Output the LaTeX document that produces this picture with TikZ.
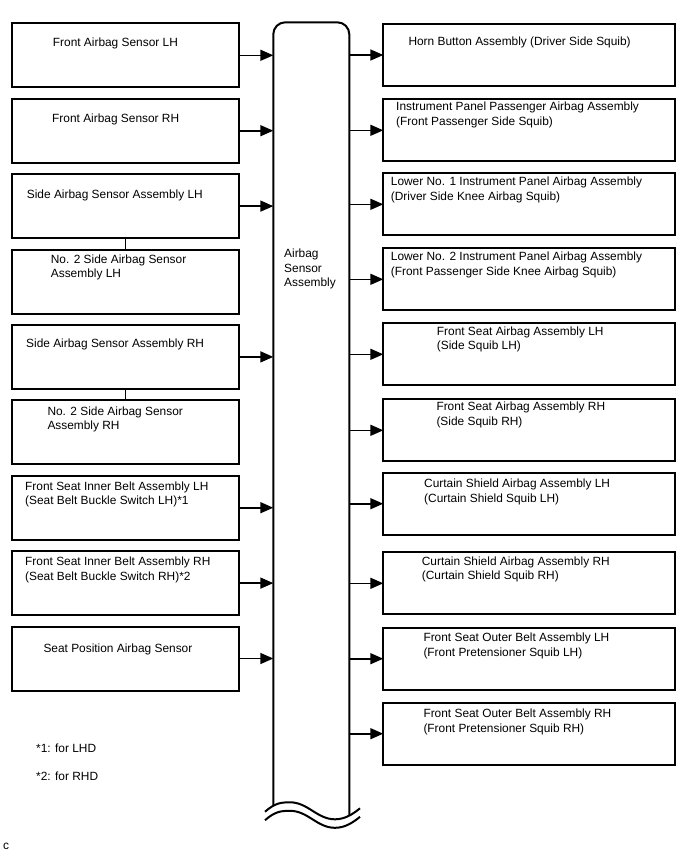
\documentclass[tikz,border=0pt]{standalone}
\usepackage{fontspec}
\setmainfont{Liberation Sans}
\usetikzlibrary{arrows.meta, positioning}
\tikzset{
  lbox/.style={draw, line width=2pt, minimum width=227pt, minimum height=64pt, inner sep=0pt, outer sep=0pt},
  rbox/.style={draw, line width=2pt, minimum width=292pt, minimum height=62pt, inner sep=0pt, outer sep=0pt},
  txt/.style={anchor=west, align=left, inner sep=0pt, font=\fontsize{11.9}{14.5}\selectfont},
  arr/.style={-{Triangle[length=13pt, width=11pt]}, line width=1.6pt},
  wire/.style={line width=1.6pt},
  barline/.style={line width=2pt},
}
\begin{document}
\begin{tikzpicture}[x=1pt, y=-1pt, node distance=11.4pt]
    \useasboundingbox (0,0) rectangle (688,852);
    \node[lbox] (fl) at (125.5,55.3) {};
    \node[lbox, below=of fl] (fr) {};
    \node[lbox, below=of fr] (sl) {};
    \node[lbox, below=of sl] (sl2) {};
    \node[lbox, below=of sl2] (sr) {};
    \node[lbox, below=of sr] (sr2) {};
    \node[lbox, below=of sr2] (bl) {};
    \node[lbox, below=of bl] (br) {};
    \node[lbox, below=of br] (sp) {};
    \node[txt] (tfl) at ([shift={(40.7pt,-20pt)}]fl.north west) {Front Airbag Sensor LH};
    \node[txt] (tfr) at ([shift={(40pt,-20.3pt)}]fr.north west) {Front Airbag Sensor RH};
    \node[txt] (tsl) at ([shift={(14.7pt,-21pt)}]sl.north west) {Side Airbag Sensor Assembly LH};
    \node[txt] (tsl2) at ([shift={(38.7pt,-17.7pt)}]sl2.north west) {No. 2 Side Airbag Sensor\\Assembly LH};
    \node[txt] (tsr) at ([shift={(14pt,-20pt)}]sr.north west) {Side Airbag Sensor Assembly RH};
    \node[txt] (tsr2) at ([shift={(35.3pt,-19.2pt)}]sr2.north west) {No. 2 Side Airbag Sensor\\Assembly RH};
    \node[txt] (tbl) at ([shift={(13pt,-18.8pt)}]bl.north west) {Front Seat Inner Belt Assembly LH\\(Seat Belt Buckle Switch LH)*1};
    \node[txt] (tbr) at ([shift={(13pt,-18.6pt)}]br.north west) {Front Seat Inner Belt Assembly RH\\(Seat Belt Buckle Switch RH)*2};
    \node[txt] (tsp) at ([shift={(31.3pt,-22.5pt)}]sp.north west) {Seat Position Airbag Sensor};
    \draw[wire] (sl) -- (sl2);
    \draw[wire] (sr) -- (sr2);

    \node[minimum width=76pt, minimum height=790pt, inner sep=0pt, outer sep=0pt] (bar) at (311.3,417.3) {};
    \draw[barline, rounded corners=12pt] (273.3,805) -- (273.3,22.3) -- (349.3,22.3) -- (349.3,815);
    \draw[barline] (265,811.7) .. controls (275,803) and (281,802.3) .. (290,802.3)
      .. controls (308,802.3) and (317,819.3) .. (335,819.3)
      .. controls (345,819.3) and (353,814) .. (360,808.3);
    \draw[barline] (265,820.2) .. controls (275,811.5) and (281,810.8) .. (290,810.8)
      .. controls (308,810.8) and (317,827.8) .. (335,827.8)
      .. controls (345,827.8) and (353,822.5) .. (360,816.8);
    \node[txt] (tbar) at (284,269) {Airbag\\Sensor\\Assembly};

    \node[rbox] (horn) at (529.3,55) {};
    \node[rbox, below=13.3pt of horn] (ipp) {};
    \node[rbox, below=12pt of ipp] (lo1) {};
    \node[rbox, below=13pt of lo1] (lo2) {};
    \node[rbox, below=13pt of lo2] (fsl) {};
    \node[rbox, below=14pt of fsl] (fsr) {};
    \node[rbox, below=11.4pt of fsr] (csl) {};
    \node[rbox, below=17.6pt of csl] (csr) {};
    \node[rbox, below=13.4pt of csr] (osl) {};
    \node[rbox, below=13pt of osl] (osr) {};
    \node[txt] (thorn) at ([shift={(25pt,-18.7pt)}]horn.north west) {Horn Button Assembly (Driver Side Squib)};
    \node[txt] (tipp) at ([shift={(12.7pt,-15.7pt)}]ipp.north west) {Instrument Panel Passenger Airbag Assembly\\(Front Passenger Side Squib)};
    \node[txt] (tlo1) at ([shift={(7.4pt,-16.4pt)}]lo1.north west) {Lower No. 1 Instrument Panel Airbag Assembly\\(Driver Side Knee Airbag Squib)};
    \node[txt] (tlo2) at ([shift={(7.4pt,-16.4pt)}]lo2.north west) {Lower No. 2 Instrument Panel Airbag Assembly\\(Front Passenger Side Knee Airbag Squib)};
    \node[txt] (tfsl) at ([shift={(53.4pt,-16.2pt)}]fsl.north west) {Front Seat Airbag Assembly LH\\(Side Squib LH)};
    \node[txt] (tfsr) at ([shift={(53pt,-15.5pt)}]fsr.north west) {Front Seat Airbag Assembly RH\\(Side Squib RH)};
    \node[txt] (tcsl) at ([shift={(40.7pt,-19.2pt)}]csl.north west) {Curtain Shield Airbag Assembly LH\\(Curtain Shield Squib LH)};
    \node[txt] (tcsr) at ([shift={(38.4pt,-17.2pt)}]csr.north west) {Curtain Shield Airbag Assembly RH\\(Curtain Shield Squib RH)};
    \node[txt] (tosl) at ([shift={(40pt,-18pt)}]osl.north west) {Front Seat Outer Belt Assembly LH\\(Front Pretensioner Squib LH)};
    \node[txt] (tosr) at ([shift={(40pt,-19pt)}]osr.north west) {Front Seat Outer Belt Assembly RH\\(Front Pretensioner Squib RH)};

    \draw[arr] (fl.east) -- (fl.east -| bar.west);
    \draw[arr] (fr.east) -- (fr.east -| bar.west);
    \draw[arr] (sl.east) -- (sl.east -| bar.west);
    \draw[arr] (sr.east) -- (sr.east -| bar.west);
    \draw[arr] (bl.east) -- (bl.east -| bar.west);
    \draw[arr] (br.east) -- (br.east -| bar.west);
    \draw[arr] (sp.east) -- (sp.east -| bar.west);
    \draw[arr] (horn.west -| bar.east) -- (horn.west);
    \draw[arr] (ipp.west -| bar.east) -- (ipp.west);
    \draw[arr] (lo1.west -| bar.east) -- (lo1.west);
    \draw[arr] (lo2.west -| bar.east) -- (lo2.west);
    \draw[arr] (fsl.west -| bar.east) -- (fsl.west);
    \draw[arr] (fsr.west -| bar.east) -- (fsr.west);
    \draw[arr] (csl.west -| bar.east) -- (csl.west);
    \draw[arr] (csr.west -| bar.east) -- (csr.west);
    \draw[arr] (osl.west -| bar.east) -- (osl.west);
    \draw[arr] (osr.west -| bar.east) -- (osr.west);

    \node[txt] (note1) at (36,748) {*1: for LHD};
    \node[txt] (note2) at (36,776) {*2: for RHD};
    \node[txt] (code) at (3,846) {c};
  \end{tikzpicture}
\end{document}
